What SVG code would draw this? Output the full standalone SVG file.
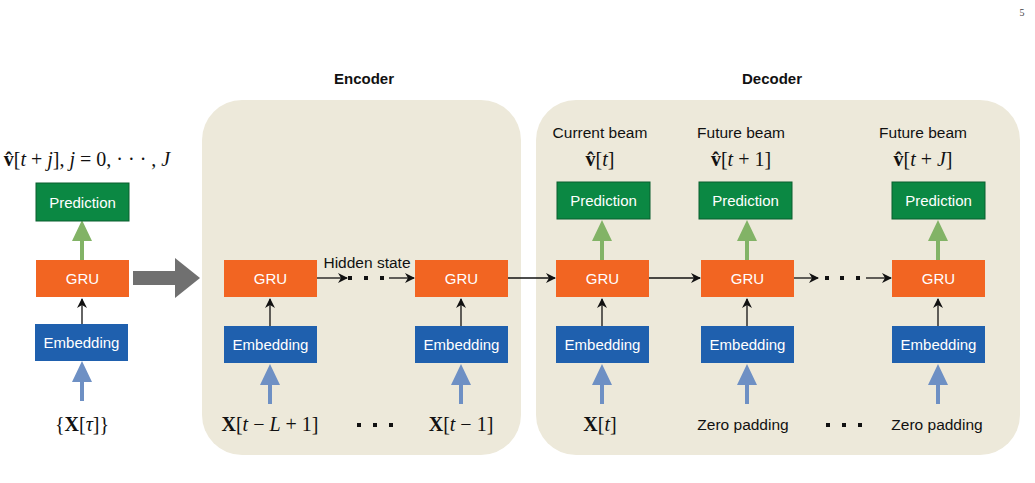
<svg xmlns="http://www.w3.org/2000/svg" width="1035" height="483" viewBox="0 0 1035 483">
<defs>
<style>
.bg{fill:#EDE9DA}
.pred{fill:#0B8843;stroke:#0A5F2E;stroke-width:1}
.gru{fill:#F26522}
.emb{fill:#1F60AE}
.bt{font-family:"Liberation Sans",Arial,sans-serif;font-size:15px;fill:#fff;text-anchor:middle;dominant-baseline:central}
.lt{font-family:"Liberation Sans",Arial,sans-serif;font-size:15.5px;fill:#111;text-anchor:middle;dominant-baseline:central}
.ht{font-family:"Liberation Sans",Arial,sans-serif;font-size:15px;font-weight:bold;fill:#111;text-anchor:middle}
.m{font-family:"Liberation Serif","Times New Roman",serif;font-size:20px;fill:#111;text-anchor:middle}
.bl{stroke:#111;stroke-width:1.3;fill:none}
.blue{fill:#6E90C4}
.green{fill:#82B366}
</style>
<marker id="ah" viewBox="0 0 10 10" refX="9" refY="5" markerWidth="10" markerHeight="10" markerUnits="userSpaceOnUse" orient="auto">
<path d="M0,0 L10,5 L0,10 L3,5 Z" fill="#111"/>
</marker>
<path id="up" d="M-2,0 L-2,-19 L-10,-19 L0,-40 L10,-19 L2,-19 L2,0 Z"/>
</defs>
<rect width="1035" height="483" fill="#fff"/>
<text x="1022" y="16" font-family="Liberation Serif,serif" font-size="10" fill="#444" text-anchor="middle">5</text>

<g id="encoder-bg"><rect class="bg" x="202" y="100" width="319" height="355" rx="40"/></g>
<g id="decoder-bg"><rect class="bg" x="536" y="100" width="484" height="355" rx="40"/></g>
<text class="ht" x="364" y="84">Encoder</text>
<text class="ht" x="772" y="84">Decoder</text>

<g id="connectors">
<path d="M133,271 L175,271 L175,258 L200,278 L175,298 L175,285 L133,285 Z" fill="#707070"/>
<line class="bl" x1="82" y1="324" x2="82" y2="299" marker-end="url(#ah)"/>
<line class="bl" x1="270" y1="326" x2="270" y2="299" marker-end="url(#ah)"/>
<line class="bl" x1="461" y1="326" x2="461" y2="299" marker-end="url(#ah)"/>
<line class="bl" x1="602" y1="326" x2="602" y2="299" marker-end="url(#ah)"/>
<line class="bl" x1="747" y1="326" x2="747" y2="299" marker-end="url(#ah)"/>
<line class="bl" x1="938" y1="326" x2="938" y2="299" marker-end="url(#ah)"/>
<line class="bl" x1="317" y1="278" x2="347" y2="278" marker-end="url(#ah)"/>
<rect x="348" y="276" width="4" height="4" fill="#111"/>
<rect x="364" y="276" width="4" height="4" fill="#111"/>
<rect x="380" y="276" width="4" height="4" fill="#111"/>
<line class="bl" x1="389" y1="278" x2="414" y2="278" marker-end="url(#ah)"/>
<line class="bl" x1="508" y1="278" x2="555" y2="278" marker-end="url(#ah)"/>
<line class="bl" x1="649" y1="278" x2="700" y2="278" marker-end="url(#ah)"/>
<line class="bl" x1="794" y1="278" x2="818" y2="278" marker-end="url(#ah)"/>
<rect x="825" y="276" width="4" height="4" fill="#111"/>
<rect x="840" y="276" width="4" height="4" fill="#111"/>
<rect x="856" y="276" width="4" height="4" fill="#111"/>
<line class="bl" x1="866" y1="278" x2="891" y2="278" marker-end="url(#ah)"/>
<use href="#up" class="blue" x="82" y="401"/>
<use href="#up" class="blue" x="270" y="404"/>
<use href="#up" class="blue" x="461" y="404"/>
<use href="#up" class="blue" x="602" y="404"/>
<use href="#up" class="blue" x="747" y="404"/>
<use href="#up" class="blue" x="938" y="404"/>
<use href="#up" class="green" x="82" y="260"/>
<use href="#up" class="green" x="602" y="260"/>
<use href="#up" class="green" x="747" y="260"/>
<use href="#up" class="green" x="938" y="260"/>
</g>

<g id="left-pred"><rect class="pred" x="36" y="183" width="93" height="38"/><text class="bt" x="82.5" y="202">Prediction</text></g>
<g id="left-gru"><rect class="gru" x="36" y="260" width="93" height="37"/><text class="bt" x="82.5" y="278.5">GRU</text></g>
<g id="left-emb"><rect class="emb" x="35" y="324" width="93" height="37"/><text class="bt" x="81.5" y="342.5">Embedding</text></g>

<g id="enc-gru1"><rect class="gru" x="224" y="260" width="93" height="37"/><text class="bt" x="270.5" y="278.5">GRU</text></g>
<g id="enc-emb1"><rect class="emb" x="224" y="326" width="93" height="37"/><text class="bt" x="270.5" y="344.5">Embedding</text></g>
<g id="enc-gru2"><rect class="gru" x="415" y="260" width="93" height="37"/><text class="bt" x="461.5" y="278.5">GRU</text></g>
<g id="enc-emb2"><rect class="emb" x="415" y="326" width="93" height="37"/><text class="bt" x="461.5" y="344.5">Embedding</text></g>

<g id="dec-pred1"><rect class="pred" x="557" y="182" width="93" height="37"/><text class="bt" x="603.5" y="200.5">Prediction</text></g>
<g id="dec-gru1"><rect class="gru" x="556" y="260" width="93" height="37"/><text class="bt" x="602.5" y="278.5">GRU</text></g>
<g id="dec-emb1"><rect class="emb" x="556" y="326" width="93" height="37"/><text class="bt" x="602.5" y="344.5">Embedding</text></g>
<g id="dec-pred2"><rect class="pred" x="699" y="182" width="93" height="37"/><text class="bt" x="745.5" y="200.5">Prediction</text></g>
<g id="dec-gru2"><rect class="gru" x="701" y="260" width="93" height="37"/><text class="bt" x="747.5" y="278.5">GRU</text></g>
<g id="dec-emb2"><rect class="emb" x="701" y="326" width="93" height="37"/><text class="bt" x="747.5" y="344.5">Embedding</text></g>
<g id="dec-pred3"><rect class="pred" x="892" y="182" width="93" height="37"/><text class="bt" x="938.5" y="200.5">Prediction</text></g>
<g id="dec-gru3"><rect class="gru" x="892" y="260" width="93" height="37"/><text class="bt" x="938.5" y="278.5">GRU</text></g>
<g id="dec-emb3"><rect class="emb" x="892" y="326" width="93" height="37"/><text class="bt" x="938.5" y="344.5">Embedding</text></g>

<g id="labels">
<text class="lt" x="367" y="262">Hidden state</text>
<text class="lt" x="600" y="132">Current beam</text>
<text class="lt" x="741" y="132">Future beam</text>
<text class="lt" x="923" y="132">Future beam</text>
<text class="lt" x="743" y="424">Zero padding</text>
<text class="lt" x="937" y="424">Zero padding</text>
<text class="m" x="87" y="166"><tspan font-weight="bold">v̂</tspan>[<tspan font-style="italic">t</tspan> + <tspan font-style="italic">j</tspan>], <tspan font-style="italic">j</tspan> = 0, · · · , <tspan font-style="italic">J</tspan></text>
<text class="m" x="600" y="166"><tspan font-weight="bold">v̂</tspan>[<tspan font-style="italic">t</tspan>]</text>
<text class="m" x="741" y="166"><tspan font-weight="bold">v̂</tspan>[<tspan font-style="italic">t</tspan> + 1]</text>
<text class="m" x="923" y="166"><tspan font-weight="bold">v̂</tspan>[<tspan font-style="italic">t</tspan> + <tspan font-style="italic">J</tspan>]</text>
<text class="m" x="82" y="431">{<tspan font-weight="bold">X</tspan>[<tspan font-style="italic">τ</tspan>]}</text>
<text class="m" x="270" y="431"><tspan font-weight="bold">X</tspan>[<tspan font-style="italic">t</tspan> − <tspan font-style="italic">L</tspan> + 1]</text>
<text class="m" x="461" y="431"><tspan font-weight="bold">X</tspan>[<tspan font-style="italic">t</tspan> − 1]</text>
<text class="m" x="600" y="431"><tspan font-weight="bold">X</tspan>[<tspan font-style="italic">t</tspan>]</text>
<rect x="357" y="423" width="4" height="4" fill="#111"/>
<rect x="373" y="423" width="4" height="4" fill="#111"/>
<rect x="389" y="423" width="4" height="4" fill="#111"/>
<rect x="826" y="423" width="4" height="4" fill="#111"/>
<rect x="842" y="423" width="4" height="4" fill="#111"/>
<rect x="858" y="423" width="4" height="4" fill="#111"/>
</g>
</svg>
